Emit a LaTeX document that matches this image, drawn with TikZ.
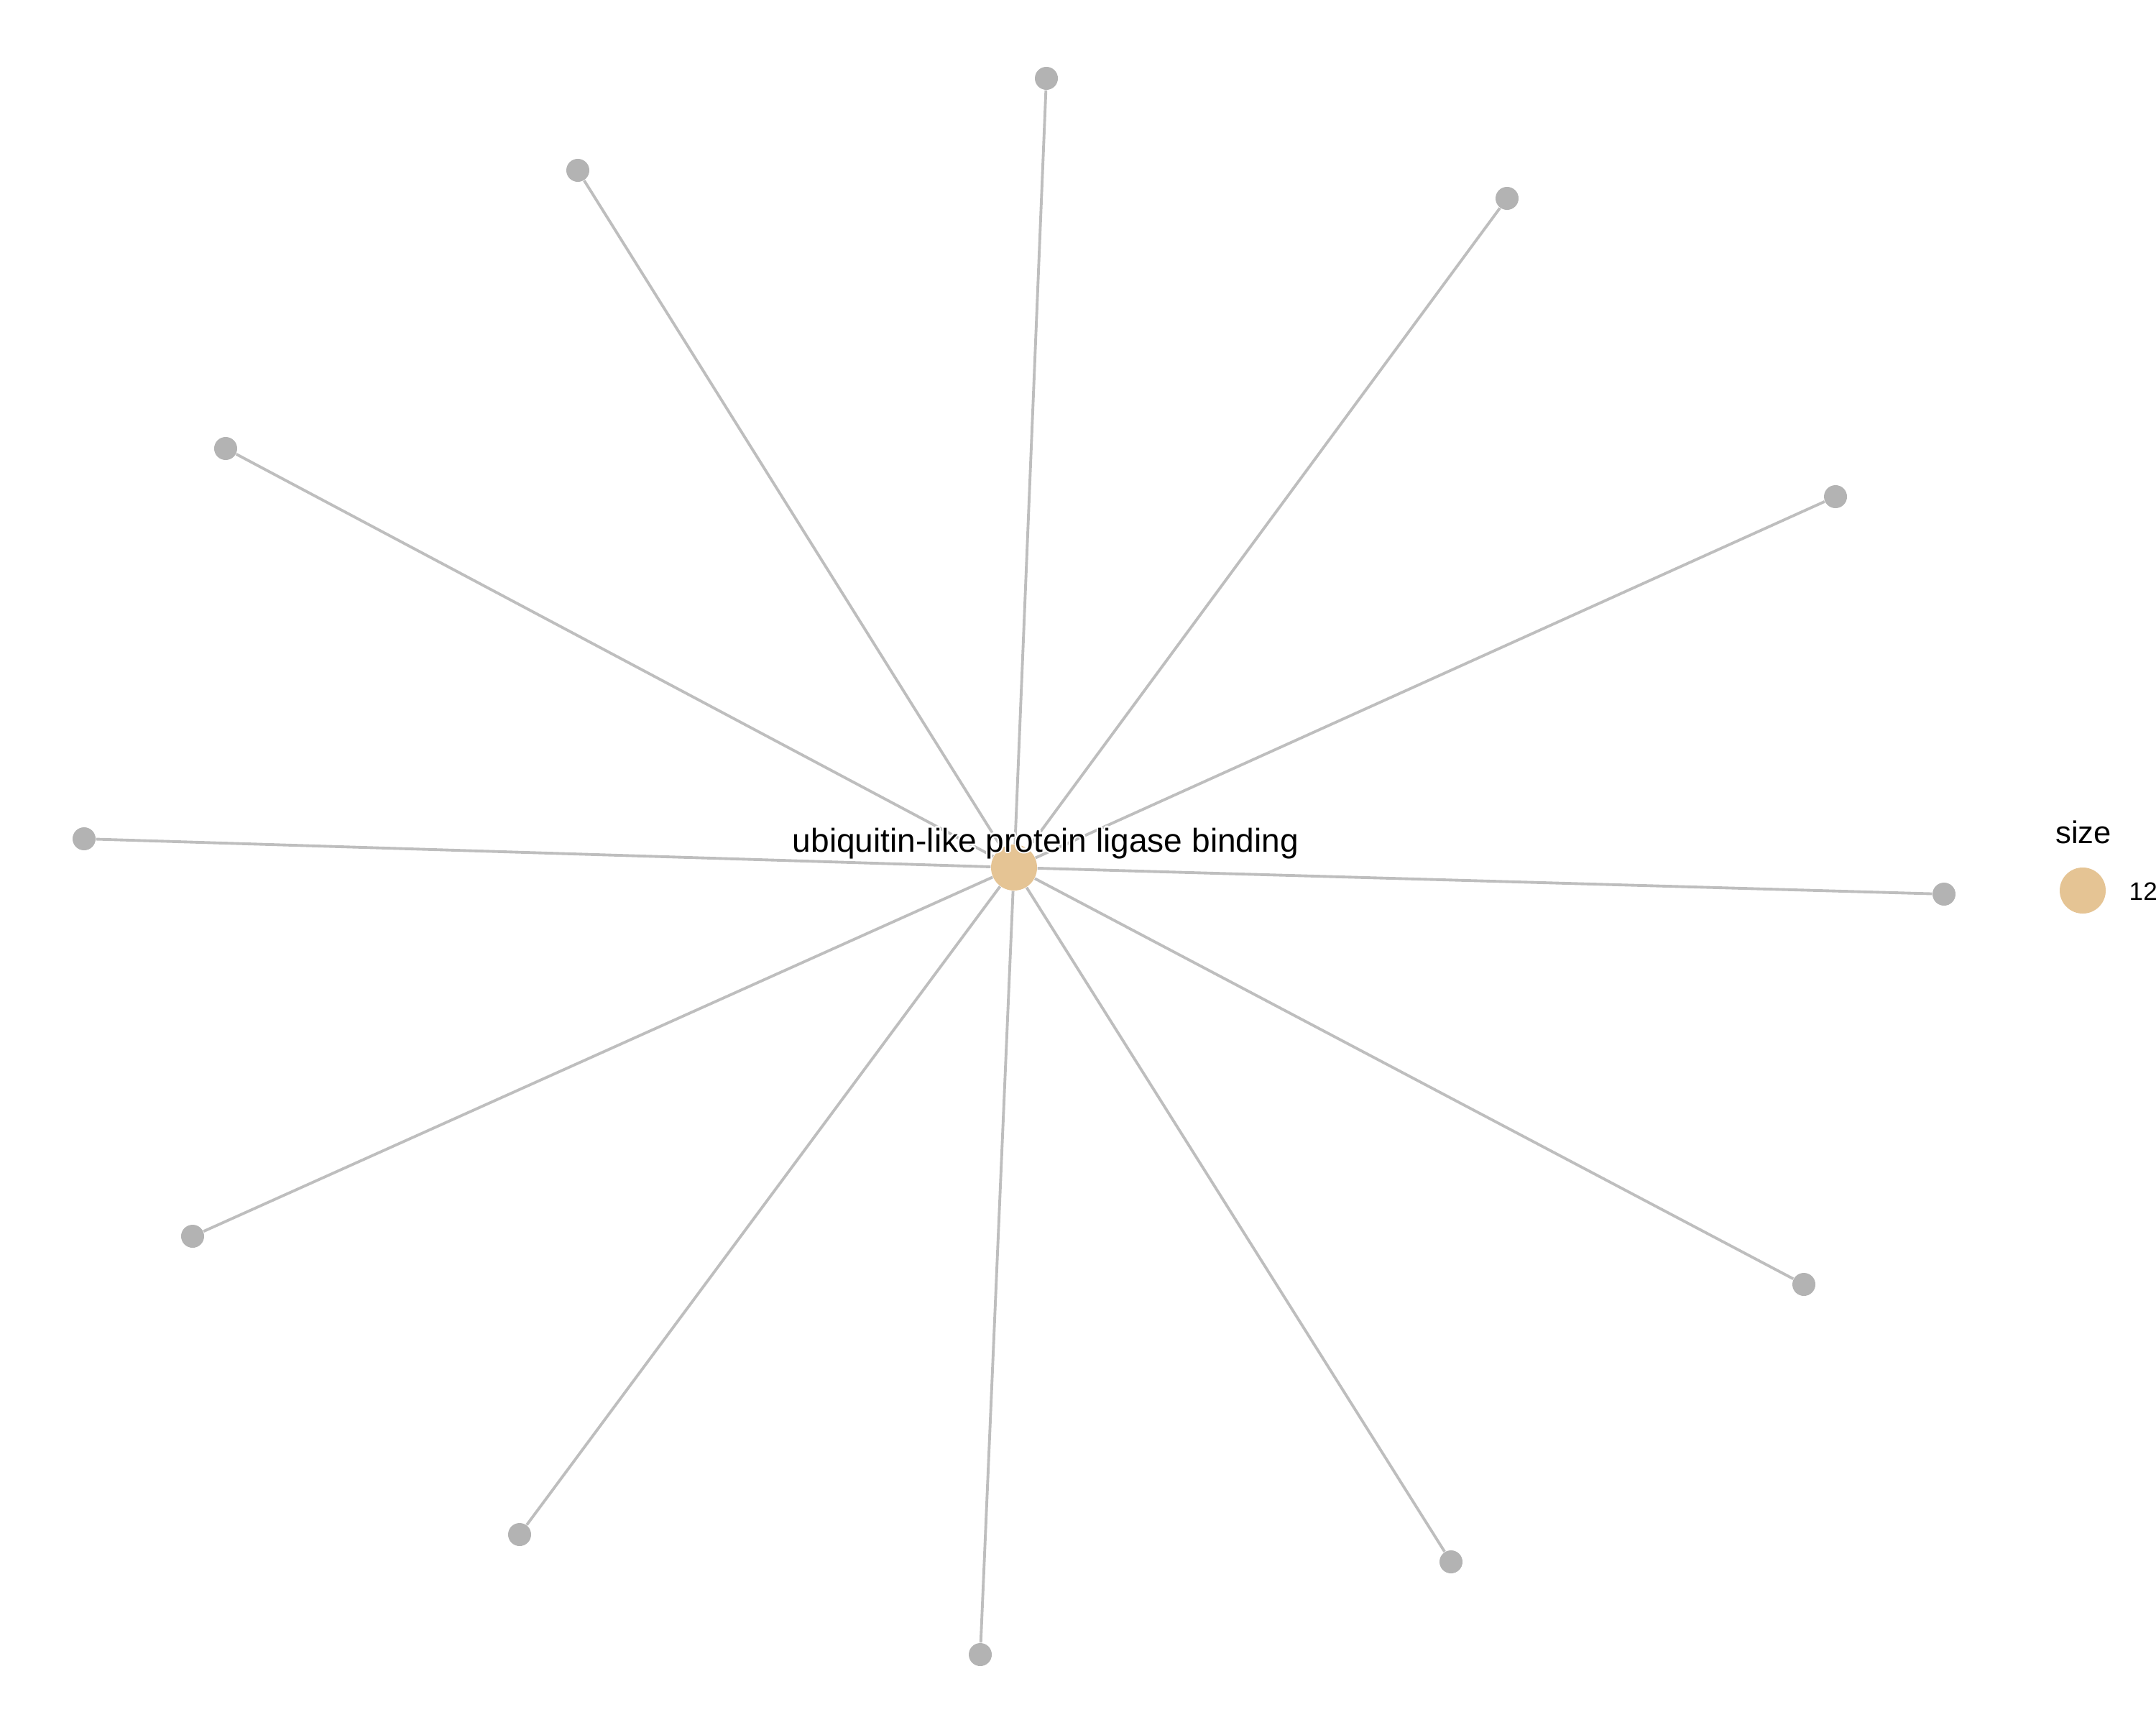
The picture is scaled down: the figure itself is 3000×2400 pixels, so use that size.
\documentclass[tikz,border=0pt]{standalone}
\usepackage{fontspec}
\setmainfont{Liberation Sans}
\usepackage{contour}
\usetikzlibrary{positioning}
\definecolor{GoEdge}{HTML}{BEBEBE}
\definecolor{GoLeaf}{HTML}{B3B3B3}
\definecolor{GoHub}{HTML}{E5C494}
\contourlength{0.6pt}

\begin{document}
\begin{tikzpicture}[x=0.01cm,y=-0.01cm,
    leaf/.style={circle,fill=GoLeaf,inner sep=0pt,minimum size=0.32cm},
    hub/.style={circle,fill=GoHub,inner sep=0pt,minimum size=0.64cm},
    link/.style={GoEdge,line width=1.1pt},
    tag/.style={inner sep=0pt,text=black}]
        \useasboundingbox (0,0) rectangle (3000,2400);
        \node[hub] (binding) at (1411,1207) {};
        \foreach \name/\px/\py in {gene1/1456/109,gene2/804/237,gene3/2097/276,
          gene4/314/624,gene5/2554/691,gene6/117/1167,gene7/2705/1244,
          gene8/268/1720,gene9/2510/1787,gene10/723/2135,gene11/2019/2173,
          gene12/1364/2302}
          \node[leaf] (\name) at (\px,\py) {};
        \foreach \name in {gene1,gene2,gene3,gene4,gene5,gene6,gene7,gene8,
          gene9,gene10,gene11,gene12}
          \draw[link] (binding) -- (\name);
        \node[tag,anchor=base,font=\fontsize{13.1}{15}\selectfont]
          (bindinglabel) at (1455,1185)
          {\contour{white}{ubiquitin-like protein ligase binding}};
        % legend
        \node[tag,anchor=base,font=\fontsize{12.4}{14}\selectfont]
          (sizetitle) at (2899,1173) {size};
        \node[hub] (sizekey) at (2898,1239) {};
        \node[tag,anchor=base west,font=\fontsize{10}{12}\selectfont]
          (sizevalue) at (2962,1252) {12};
      \end{tikzpicture}
\end{document}
